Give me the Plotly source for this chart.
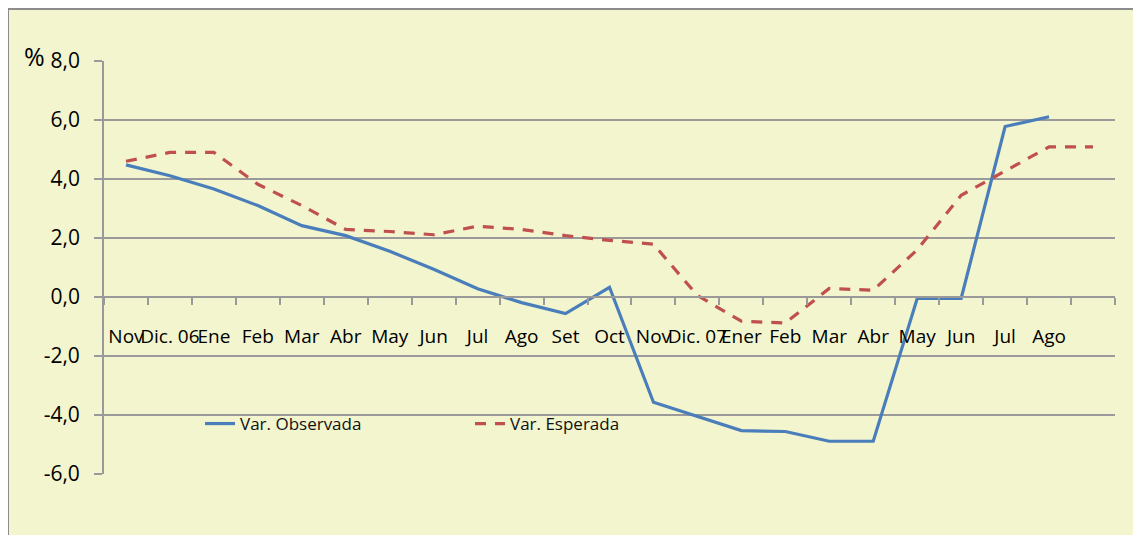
import plotly.graph_objects as go

months = ["Nov", "Dic. 06", "Ene", "Feb", "Mar", "Abr", "May", "Jun", "Jul", "Ago", "Set", "Oct",
          "Nov", "Dic. 07", "Ener", "Feb", "Mar", "Abr", "May", "Jun", "Jul", "Ago", ""]
observada = [4.48, 4.11, 3.66, 3.10, 2.42, 2.08, 1.55, 0.94, 0.28, -0.19, -0.56, 0.33,
             -3.57, -4.04, -4.53, -4.56, -4.89, -4.89, -0.05, -0.05, 5.78, 6.11, None]
esperada = [4.60, 4.90, 4.90, 3.82, 3.10, 2.29, 2.22, 2.11, 2.40, 2.29, 2.08, 1.92,
            1.79, 0.05, -0.82, -0.88, 0.29, 0.23, 1.60, 3.45, 4.27, 5.09, 5.09]
y_ticks = [-6, -4, -2, 0, 2, 4, 6, 8]
y_ticktext = ["-6,0", "-4,0", "-2,0", "0,0", "2,0", "4,0", "6,0", "8,0"]

x = list(range(len(months)))
FONT = "Open Sans"
GRID = "#9a9a9a"
BG = "#F3F5CE"
FRAME = "#8c8c8c"

fig = go.Figure()
fig.add_trace(go.Scatter(x=x, y=observada, name="Var. Observada", mode="lines",
                         line=dict(color="#4A7EBB", width=3.2)))
fig.add_trace(go.Scatter(x=x, y=esperada, name="Var. Esperada", mode="lines",
                         line=dict(color="#C0504D", width=3.2, dash="11px,9px")))

# page body has an 8px margin: figure pixel = screen pixel - 8
OFF = 8
W, H = 1141, 535
L, T = 104 - OFF, 61 - OFF
R, B = W - (1115 - OFF), H - (474 - OFF)
pw, ph = W - L - R, H - T - B

def px_x(p):  # screen px -> paper
    return (p - OFF - L) / pw

def px_y(p):
    return (H - B - (p - OFF)) / ph

fig.add_shape(type="rect", xref="paper", yref="paper", layer="below",
              x0=px_x(8), x1=px_x(1160), y0=px_y(560), y1=px_y(9),
              fillcolor=BG, line=dict(width=0))
fig.add_shape(type="line", xref="paper", yref="paper", layer="below",
              x0=px_x(8), x1=px_x(1160), y0=px_y(9), y1=px_y(9),
              line=dict(color=FRAME, width=2))
fig.add_shape(type="line", xref="paper", yref="paper", layer="below",
              x0=px_x(8), x1=px_x(8), y0=px_y(560), y1=px_y(9),
              line=dict(color=FRAME, width=2))

fig.add_annotation(text="%", xref="paper", yref="paper", x=px_x(34), y=px_y(56),
                   xanchor="center", yanchor="middle",
                   showarrow=False, font=dict(family=FONT, size=25, color="#000"))

fig.update_layout(
    width=W, height=H,
    margin=dict(l=L, r=R, t=T, b=B, pad=0),
    paper_bgcolor="white",
    plot_bgcolor="rgba(0,0,0,0)",
    showlegend=True,
    legend=dict(orientation="h", x=px_x(200), y=px_y(424), xanchor="left", yanchor="middle",
                bgcolor="rgba(0,0,0,0)", font=dict(family=FONT, size=17, color="#111"),
                entrywidth=225, entrywidthmode="pixels"),
    font=dict(family=FONT, color="#000"),
)

fig.update_xaxes(
    range=[-0.5, len(months) - 0.5],
    tickmode="array", tickvals=x, ticktext=months, tickangle=0,
    ticks="", showgrid=False, zeroline=False,
    showline=True, linecolor=GRID, linewidth=1.8,
    anchor="free", position=6 / 14,
    tickfont=dict(family=FONT, size=19, color="#000"),
    ticklabelstandoff=22,
    minor=dict(tickmode="linear", tick0=-0.5, dtick=1, ticks="outside", ticklen=7,
               tickcolor=GRID, tickwidth=1.8, showgrid=False),
)
fig.update_yaxes(
    range=[-6, 8], tickmode="array", tickvals=y_ticks, ticktext=y_ticktext,
    showgrid=True, gridcolor=GRID, gridwidth=1.8, zeroline=False,
    showline=True, linecolor=GRID, linewidth=1.8,
    ticks="outside", ticklen=8, tickcolor=GRID, tickwidth=1.8,
    tickfont=dict(family=FONT, size=21, color="#000"),
    ticklabelstandoff=10,
)

fig.write_html("out.html")
